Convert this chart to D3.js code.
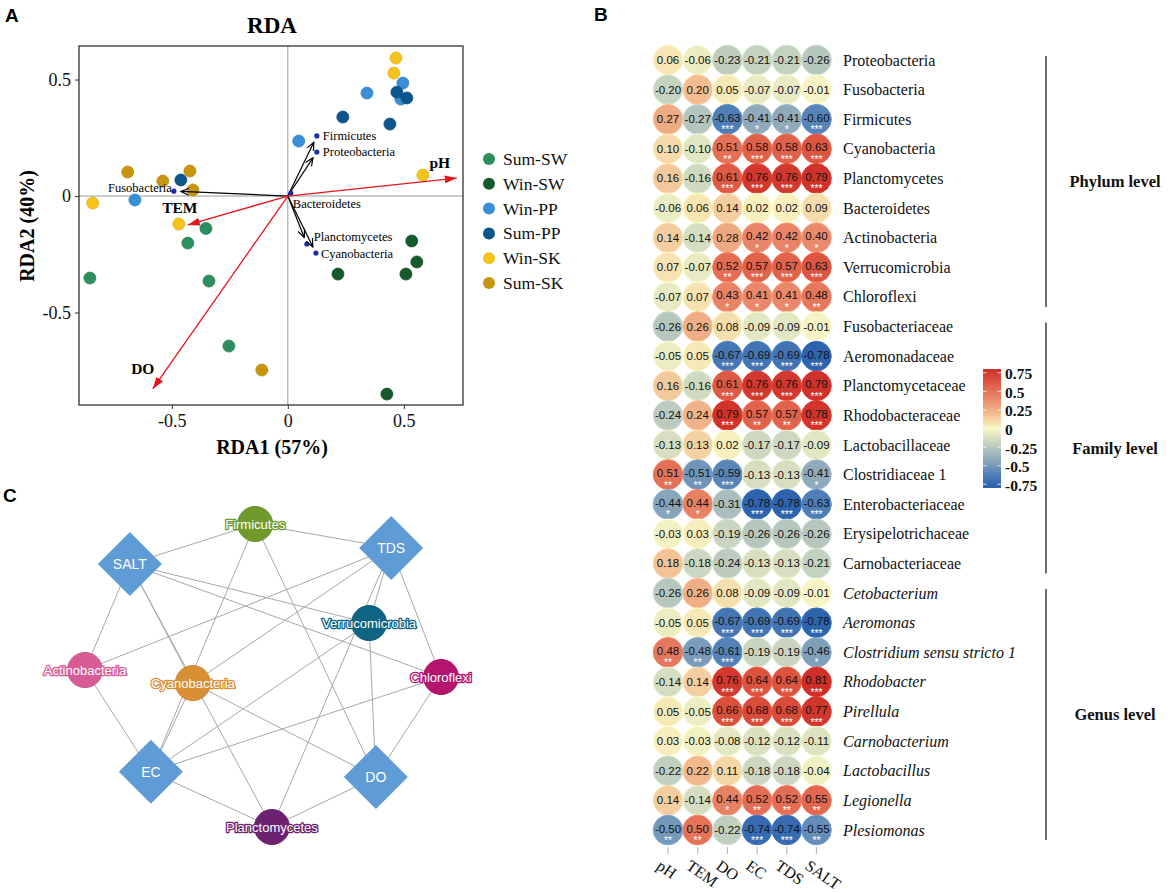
<!DOCTYPE html>
<html><head><meta charset="utf-8">
<script src="https://cdn.jsdelivr.net/npm/d3@7"></script>
<style>body{margin:0;background:#fff}svg{display:block}</style>
</head><body>
<svg id="c" width="1170" height="893"></svg>
<script>
// ---------------- DATA ----------------
// Panel A: RDA sample scores
const groups = ["Sum-SW","Win-SW","Win-PP","Sum-PP","Win-SK","Sum-SK"];
const sampleGroup = [
  "Win-SK","Win-SK","Win-SK","Win-SK","Win-SK",
  "Win-PP","Win-PP","Win-PP","Win-PP","Win-PP",
  "Sum-PP","Sum-PP","Sum-PP","Sum-PP","Sum-PP",
  "Sum-SK","Sum-SK","Sum-SK","Sum-SK","Sum-SK",
  "Sum-SW","Sum-SW","Sum-SW","Sum-SW","Sum-SW",
  "Win-SW","Win-SW","Win-SW","Win-SW","Win-SW"];
const sampleRDA1 = [0.466,0.457,0.582,-0.841,-0.470,
  0.496,0.341,0.487,0.047,-0.659,
  0.470,0.513,0.237,0.440,-0.461,
  -0.690,-0.422,-0.539,-0.409,-0.112,
  -0.353,-0.431,-0.853,-0.340,-0.254,
  0.534,0.556,0.216,0.509,0.427];
const sampleRDA2 = [0.592,0.528,0.090,-0.030,-0.120,
  0.485,0.442,0.416,0.236,-0.017,
  0.446,0.421,0.339,0.309,0.069,
  0.103,0.107,0.064,0.026,-0.747,
  -0.139,-0.202,-0.352,-0.365,-0.644,
  -0.193,-0.283,-0.335,-0.335,-0.850];
// species arrows
const speciesNames = ["Firmicutes","Proteobacteria","Fusobacteria","Bacteroidetes","Planctomycetes","Cyanobacteria"];
const speciesRDA1 = [0.125,0.125,-0.491,0.013,0.082,0.121];
const speciesRDA2 = [0.258,0.189,0.021,0.013,-0.206,-0.245];
// environmental arrows
const envArrowNames = ["pH","TEM","DO"];
const envRDA1 = [0.728,-0.431,-0.582];
const envRDA2 = [0.077,-0.124,-0.828];
const rdaTicks = [-0.5,0,0.5];

// Panel B: correlation heatmap
const envVars = ["pH","TEM","DO","EC","TDS","SALT"];
const phylumTaxa = ["Proteobacteria","Fusobacteria","Firmicutes","Cyanobacteria","Planctomycetes","Bacteroidetes","Actinobacteria","Verrucomicrobia","Chloroflexi"];
const phylumValues = [
  [0.06,-0.06,-0.23,-0.21,-0.21,-0.26],
  [-0.20,0.20,0.05,-0.07,-0.07,-0.01],
  [0.27,-0.27,-0.63,-0.41,-0.41,-0.60],
  [0.10,-0.10,0.51,0.58,0.58,0.63],
  [0.16,-0.16,0.61,0.76,0.76,0.79],
  [-0.06,0.06,0.14,0.02,0.02,0.09],
  [0.14,-0.14,0.28,0.42,0.42,0.40],
  [0.07,-0.07,0.52,0.57,0.57,0.63],
  [-0.07,0.07,0.43,0.41,0.41,0.48]];
const phylumStars = [
  ["","","","","",""],
  ["","","","","",""],
  ["","","***","*","*","***"],
  ["","","**","***","***","***"],
  ["","","***","***","***","***"],
  ["","","","","",""],
  ["","","","*","*","*"],
  ["","","**","***","***","***"],
  ["","","*","*","*","**"]];
const familyTaxa = ["Fusobacteriaceae","Aeromonadaceae","Planctomycetaceae","Rhodobacteraceae","Lactobacillaceae","Clostridiaceae 1","Enterobacteriaceae","Erysipelotrichaceae","Carnobacteriaceae"];
const familyValues = [
  [-0.26,0.26,0.08,-0.09,-0.09,-0.01],
  [-0.05,0.05,-0.67,-0.69,-0.69,-0.78],
  [0.16,-0.16,0.61,0.76,0.76,0.79],
  [-0.24,0.24,0.79,0.57,0.57,0.78],
  [-0.13,0.13,0.02,-0.17,-0.17,-0.09],
  [0.51,-0.51,-0.59,-0.13,-0.13,-0.41],
  [-0.44,0.44,-0.31,-0.78,-0.78,-0.63],
  [-0.03,0.03,-0.19,-0.26,-0.26,-0.26],
  [0.18,-0.18,-0.24,-0.13,-0.13,-0.21]];
const familyStars = [
  ["","","","","",""],
  ["","","***","***","***","***"],
  ["","","***","***","***","***"],
  ["","","***","**","**","***"],
  ["","","","","",""],
  ["**","**","***","","","*"],
  ["*","*","","***","***","***"],
  ["","","","","",""],
  ["","","","","",""]];
const genusTaxa = ["Cetobacterium","Aeromonas","Clostridium sensu stricto 1","Rhodobacter","Pirellula","Carnobacterium","Lactobacillus","Legionella","Plesiomonas"];
const genusValues = [
  [-0.26,0.26,0.08,-0.09,-0.09,-0.01],
  [-0.05,0.05,-0.67,-0.69,-0.69,-0.78],
  [0.48,-0.48,-0.61,-0.19,-0.19,-0.46],
  [-0.14,0.14,0.76,0.64,0.64,0.81],
  [0.05,-0.05,0.66,0.68,0.68,0.77],
  [0.03,-0.03,-0.08,-0.12,-0.12,-0.11],
  [-0.22,0.22,0.11,-0.18,-0.18,-0.04],
  [0.14,-0.14,0.44,0.52,0.52,0.55],
  [-0.50,0.50,-0.22,-0.74,-0.74,-0.55]];
const genusStars = [
  ["","","","","",""],
  ["","","***","***","***","***"],
  ["**","**","***","","","*"],
  ["","","***","***","***","***"],
  ["","","***","***","***","***"],
  ["","","","","",""],
  ["","","","","",""],
  ["","","*","**","**","**"],
  ["**","**","","***","***","**"]];
const levelNames = ["Phylum level","Family level","Genus level"];
const colorbarTicks = [0.75,0.5,0.25,0,-0.25,-0.5,-0.75];

// Panel C: network (nodes, layout in unit coordinates)
const networkNodes = ["Firmicutes","TDS","SALT","Verrucomicrobia","Actinobacteria","Cyanobacteria","Chloroflexi","EC","DO","Planctomycetes"];
const networkLayoutX = [0.478,0.860,0.126,0.798,0.000,0.303,1.000,0.185,0.817,0.525];
const networkLayoutY = [0.000,0.079,0.132,0.327,0.482,0.525,0.505,0.818,0.835,1.000];
const networkEnv = ["DO","EC","TDS","SALT"];

// ---------------- STYLES ----------------
const serif = "'Liberation Serif','Times New Roman',serif";
const sans = "'Liberation Sans',Arial,sans-serif";
const groupColors = ["#2e8f5e","#16592b","#3a8ed8","#0c568c","#f6c21c","#c8960e"];
const nodeColors = {Firmicutes:"#6e9a2e",Verrucomicrobia:"#0d6483",Actinobacteria:"#d65b97",
  Cyanobacteria:"#d98f35",Chloroflexi:"#b5146e",Planctomycetes:"#6c2271"};
const envNodeColor = "#5f9cd6";

const svg = d3.select("#c");
const defs = svg.append("defs");

// panel letters
[["A",5,22],["B",594,21],["C",3,502]].forEach(([t,px,py])=>{
  svg.append("text").attr("x",px).attr("y",py).text(t)
    .attr("font-family",sans).attr("font-weight","bold").attr("font-size",19);
});

// ================= PANEL A =================
const x = d3.scaleLinear().domain([-0.9,0.755]).range([79,463]);
const y = d3.scaleLinear().domain([-0.897,0.644]).range([405,46]);
const gA = svg.append("g");

gA.append("text").attr("x",272).attr("y",33).attr("text-anchor","middle")
  .attr("font-family",serif).attr("font-weight","bold").attr("font-size",23).text("RDA");

gA.append("line").attr("x1",x(0)).attr("x2",x(0)).attr("y1",y.range()[0]).attr("y2",y.range()[1])
  .attr("stroke","#9a9a9a").attr("stroke-width",1);
gA.append("line").attr("x1",x.range()[0]).attr("x2",x.range()[1]).attr("y1",y(0)).attr("y2",y(0))
  .attr("stroke","#9a9a9a").attr("stroke-width",1);

const fmtTick = d => String(d);
const ax = gA.append("g").attr("transform",`translate(0,${y.range()[0]})`)
  .call(d3.axisBottom(x).tickValues(rdaTicks).tickFormat(fmtTick).tickSize(4).tickPadding(5));
const ay = gA.append("g").attr("transform",`translate(${x.range()[0]},0)`)
  .call(d3.axisLeft(y).tickValues(rdaTicks).tickFormat(fmtTick).tickSize(4).tickPadding(4));
[ax,ay].forEach(a=>{
  a.select(".domain").remove();
  a.selectAll("text").attr("font-family",serif).attr("font-size",18).attr("fill","#111");
  a.selectAll("line").attr("stroke","#333");
});
gA.append("rect").attr("x",x.range()[0]).attr("y",y.range()[1])
  .attr("width",x.range()[1]-x.range()[0]).attr("height",y.range()[0]-y.range()[1])
  .attr("fill","none").attr("stroke","#333").attr("stroke-width",1.3);

gA.append("text").attr("x",272).attr("y",454).attr("text-anchor","middle")
  .attr("font-family",serif).attr("font-weight","bold").attr("font-size",20).text("RDA1 (57%)");
gA.append("text").attr("transform","translate(34,226) rotate(-90)").attr("text-anchor","middle")
  .attr("font-family",serif).attr("font-weight","bold").attr("font-size",20).text("RDA2 (40%)");

// markers
defs.append("marker").attr("id","redHead").attr("viewBox","0 0 12 8").attr("refX",12).attr("refY",4)
  .attr("markerWidth",12).attr("markerHeight",8).attr("markerUnits","userSpaceOnUse").attr("orient","auto")
  .append("path").attr("d","M0,0L12,4L0,8Z").attr("fill","#e8141b");
defs.append("marker").attr("id","blackHead").attr("viewBox","-1 -1 10 10").attr("refX",8).attr("refY",4)
  .attr("markerWidth",10).attr("markerHeight",10).attr("markerUnits","userSpaceOnUse").attr("orient","auto")
  .append("path").attr("d","M0,0.5L8,4L0,7.5").attr("fill","none").attr("stroke","#000").attr("stroke-width",1.2);

// samples
const samples = sampleGroup.map((g,i)=>({g,v1:sampleRDA1[i],v2:sampleRDA2[i]}));
const gcol = d3.scaleOrdinal().domain(groups).range(groupColors);
gA.append("g").selectAll("circle").data(samples).join("circle")
  .attr("cx",d=>x(d.v1)).attr("cy",d=>y(d.v2)).attr("r",6)
  .attr("fill",d=>gcol(d.g)).attr("stroke",d=>d3.color(gcol(d.g)).darker(0.25)).attr("stroke-width",0.8);

// species arrows
const sLabel = {Firmicutes:[6,0,"start"],Proteobacteria:[6,0,"start"],Fusobacteria:[-2,-3,"end"],
  Bacteroidetes:[2,11,"start"],Planctomycetes:[7,-7,"start"],Cyanobacteria:[5,1,"start"]};
const ox = x(0), oy = y(0);
speciesNames.forEach((n,i)=>{
  const px = x(speciesRDA1[i]), py = y(speciesRDA2[i]);
  const dx = px-ox, dy = py-oy, L = Math.hypot(dx,dy);
  if (L > 12) {
    const k = (L-7)/L;
    gA.append("line").attr("x1",ox).attr("y1",oy).attr("x2",ox+dx*k).attr("y2",oy+dy*k)
      .attr("stroke","#000").attr("stroke-width",1.2).attr("marker-end","url(#blackHead)");
  }
  gA.append("circle").attr("cx",px).attr("cy",py).attr("r",2.6).attr("fill","#1b2fa8");
  const o = sLabel[n];
  gA.append("text").attr("x",px+o[0]).attr("y",py+o[1]).attr("text-anchor",o[2])
    .attr("dominant-baseline","central").attr("font-family",serif).attr("font-size",12.5).text(n);
});
// env arrows
const eLabel = {pH:[-17,-16],TEM:[-8,-17],DO:[-10,-20]};
envArrowNames.forEach((n,i)=>{
  const px = x(envRDA1[i]), py = y(envRDA2[i]);
  gA.append("line").attr("x1",ox).attr("y1",oy).attr("x2",px).attr("y2",py)
    .attr("stroke","#e8141b").attr("stroke-width",1.3).attr("marker-end","url(#redHead)");
  gA.append("text").attr("x",px+eLabel[n][0]).attr("y",py+eLabel[n][1]).attr("text-anchor","middle")
    .attr("dominant-baseline","central").attr("font-family",serif).attr("font-weight","bold")
    .attr("font-size",15.5).text(n);
});

// legend
const lg = gA.append("g");
groups.forEach((g,i)=>{
  const ly = 159 + i*24.8;
  lg.append("circle").attr("cx",489).attr("cy",ly).attr("r",6).attr("fill",gcol(g));
  lg.append("text").attr("x",503).attr("y",ly).attr("dominant-baseline","central")
    .attr("font-family",serif).attr("font-size",17.5).attr("fill","#111").text(g);
});

// ================= PANEL B =================
const allTaxa = [...phylumTaxa,...familyTaxa,...genusTaxa];
const allValues = [...phylumValues,...familyValues,...genusValues];
const allStars = [...phylumStars,...familyStars,...genusStars];
const isGenus = allTaxa.map((t,i)=>i>=phylumTaxa.length+familyTaxa.length);
const rowY = d3.scalePoint().domain(d3.range(allTaxa.length)).range([60,830]);
const colX = d3.scalePoint().domain(envVars).range([668,816.5]);
const color = d3.scaleLinear()
  .domain([-0.8,-0.6,-0.4,-0.2,0,0.2,0.4,0.6,0.8])
  .range(["#2a5fac","#5683b8","#92acbb","#c6d3bf","#f9f6c4","#f2bd90","#e98a6c","#df5c45","#cf2f27"])
  .clamp(true);

const gB = svg.append("g");
const cells = [];
allValues.forEach((row,ri)=>row.forEach((v,ci)=>cells.push({ri,ci,v,s:allStars[ri][ci]})));
const cg = gB.selectAll("g.cell").data(cells).join("g").attr("class","cell")
  .attr("transform",d=>`translate(${colX(envVars[d.ci])},${rowY(d.ri)})`);
cg.append("circle").attr("r",14.8).attr("fill",d=>color(d.v))
  .attr("stroke",d=>d3.color(color(d.v)).brighter(0.25)).attr("stroke-width",1);
cg.append("text").attr("y",d=>d.s?-1.5:0).attr("text-anchor","middle").attr("dominant-baseline","central")
  .attr("font-family",sans).attr("font-size",11.5).attr("fill","#111").text(d=>d.v.toFixed(2));
cg.filter(d=>d.s).append("text").attr("y",10).attr("text-anchor","middle").attr("dominant-baseline","central")
  .attr("font-family",sans).attr("font-size",10.5).attr("fill","#fff").text(d=>d.s);

// row labels
gB.selectAll("text.rl").data(allTaxa).join("text").attr("class","rl")
  .attr("x",843).attr("y",(d,i)=>rowY(i)).attr("dominant-baseline","central")
  .attr("font-family",serif).attr("font-size",16).attr("fill","#111")
  .attr("font-style",(d,i)=>isGenus[i]?"italic":"normal").text(d=>d);

// column ticks and labels
const lastY = rowY(allTaxa.length-1);
envVars.forEach(v=>{
  gB.append("line").attr("x1",colX(v)).attr("x2",colX(v)).attr("y1",lastY+17).attr("y2",lastY+24)
    .attr("stroke","#bbb").attr("stroke-width",1.2);
  gB.append("text").attr("transform",`translate(${colX(v)-6},${lastY+29}) rotate(35)`)
    .attr("dy","0.7em").attr("font-family",serif).attr("font-size",16).attr("fill","#111").text(v);
});

// level brackets
const levelSizes = [phylumTaxa.length,familyTaxa.length,genusTaxa.length];
let start = 0;
levelNames.forEach((ln,k)=>{
  const a = rowY(start), b = rowY(start+levelSizes[k]-1);
  gB.append("line").attr("x1",1046).attr("x2",1046).attr("y1",a-4).attr("y2",b+10)
    .attr("stroke","#222").attr("stroke-width",1.3);
  gB.append("text").attr("x",1115).attr("y",(a+b)/2+3).attr("text-anchor","middle")
    .attr("dominant-baseline","central").attr("font-family",serif).attr("font-weight","bold")
    .attr("font-size",16.5).attr("fill","#111").text(ln);
  start += levelSizes[k];
});

// colorbar
const cbY = d3.scaleLinear().domain([-0.8,0.8]).range([488,369]);
const grad = defs.append("linearGradient").attr("id","cbg").attr("x1",0).attr("x2",0).attr("y1",1).attr("y2",0);
d3.range(0,1.0001,0.05).forEach(t=>{
  grad.append("stop").attr("offset",t).attr("stop-color",color(-0.8+1.6*t));
});
gB.append("rect").attr("x",983).attr("y",369).attr("width",18).attr("height",119).attr("fill","url(#cbg)");
colorbarTicks.forEach(t=>{
  [[983,986.5],[997.5,1001]].forEach(([a,b])=>gB.append("line").attr("x1",a).attr("x2",b)
    .attr("y1",cbY(t)).attr("y2",cbY(t)).attr("stroke","#fff").attr("stroke-opacity",0.8).attr("stroke-width",1));
  gB.append("text").attr("x",1005).attr("y",cbY(t)+1).attr("dominant-baseline","central")
    .attr("font-family",serif).attr("font-weight","bold").attr("font-size",15.5).attr("fill","#111").text(String(t));
});

// ================= PANEL C =================
const nx = d3.scaleLinear().domain([0,1]).range([85,441]);
const ny = d3.scaleLinear().domain([0,1]).range([524,827]);
const nodePos = {};
networkNodes.forEach((n,i)=>nodePos[n]=[nx(networkLayoutX[i]),ny(networkLayoutY[i])]);
const edges = [];
phylumTaxa.forEach((t,ri)=>networkEnv.forEach(e=>{
  const ci = envVars.indexOf(e);
  if (phylumStars[ri][ci] && nodePos[t]) edges.push([t,e]);
}));
const gC = svg.append("g");
gC.selectAll("line").data(edges).join("line")
  .attr("x1",d=>nodePos[d[0]][0]).attr("y1",d=>nodePos[d[0]][1])
  .attr("x2",d=>nodePos[d[1]][0]).attr("y2",d=>nodePos[d[1]][1])
  .attr("stroke","#a8a8a8").attr("stroke-width",1);
networkNodes.forEach(n=>{
  const [px,py] = nodePos[n];
  const g = gC.append("g").attr("transform",`translate(${px},${py})`);
  if (networkEnv.includes(n)) {
    g.append("path").attr("d","M0,-32L32,0L0,32L-32,0Z").attr("fill",envNodeColor);
    g.append("text").attr("text-anchor","middle").attr("dominant-baseline","central")
      .attr("font-family",sans).attr("font-size",14).attr("fill","#fff").text(n);
  } else {
    const c = nodeColors[n];
    g.append("circle").attr("r",17.5).attr("fill",c).attr("stroke",d3.color(c).darker(0.2)).attr("stroke-width",1);
    g.append("text").attr("text-anchor","middle").attr("dominant-baseline","central")
      .attr("font-family",sans).attr("font-size",13).attr("fill","#fff")
      .attr("stroke",c).attr("stroke-width",2.6).attr("stroke-linejoin","round")
      .attr("paint-order","stroke").text(n);
  }
});
</script>
</body></html>
